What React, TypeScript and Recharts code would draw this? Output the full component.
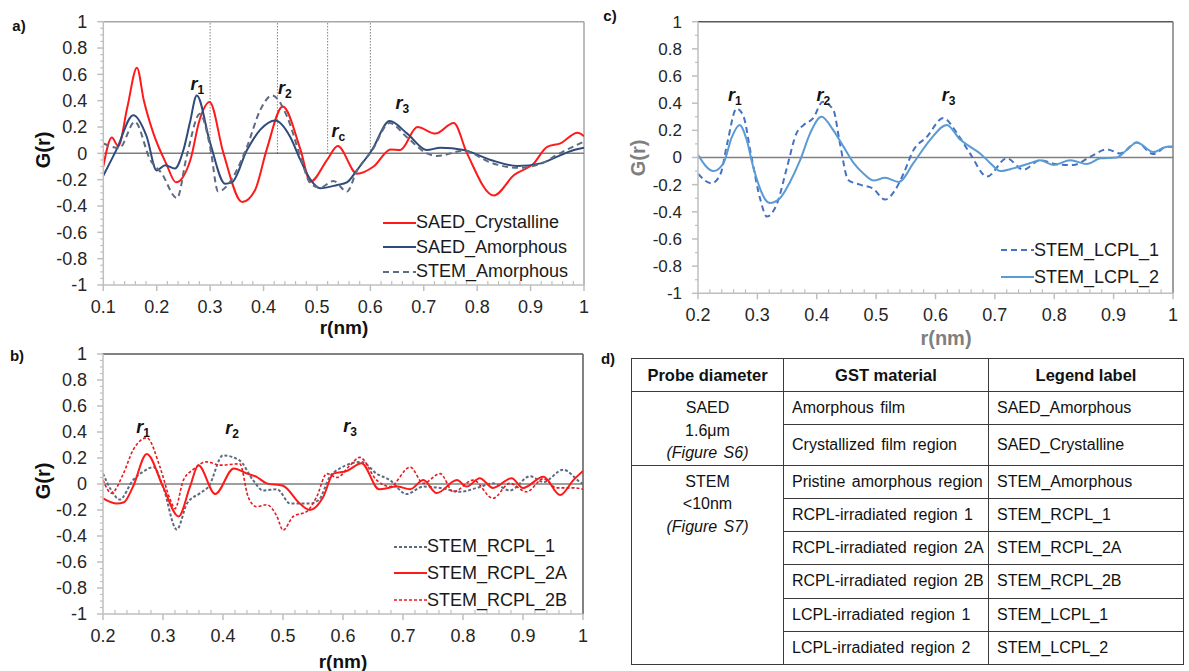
import React from 'react';
import { LineChart, Line, XAxis, YAxis, ReferenceLine, ReferenceDot } from 'recharts';

// r (nm) and G(r) values, one pair of arrays per curve

// panel a
const saedCrystR = [0.1, 0.116, 0.128, 0.145, 0.163, 0.176, 0.194, 0.218, 0.236, 0.263, 0.28, 0.299, 0.325, 0.36, 0.384, 0.406, 0.436, 0.469, 0.488, 0.519, 0.539, 0.575, 0.606, 0.638, 0.656, 0.688, 0.722, 0.756, 0.781, 0.831, 0.869, 0.906, 0.931, 0.956, 0.988, 1.0];
const saedCrystG = [-0.1, 0.12, 0.055, 0.35, 0.65, 0.4, 0.15, -0.08, -0.22, -0.05, 0.25, 0.39, 0.0, -0.37, -0.28, 0.03, 0.355, 0.03, -0.215, -0.05, 0.055, -0.155, -0.1, 0.03, 0.025, 0.2, 0.15, 0.23, 0.0, -0.32, -0.165, -0.076, 0.05, 0.076, 0.157, 0.13];

const saedAmorR = [0.1, 0.125, 0.156, 0.181, 0.2, 0.216, 0.234, 0.25, 0.262, 0.275, 0.3, 0.328, 0.341, 0.369, 0.394, 0.422, 0.45, 0.469, 0.488, 0.506, 0.538, 0.556, 0.575, 0.603, 0.636, 0.669, 0.706, 0.731, 0.775, 0.825, 0.875, 0.919, 0.95, 0.981, 1.0];
const saedAmorG = [-0.17, 0.03, 0.29, 0.13, -0.13, -0.09, -0.115, 0.025, 0.23, 0.44, 0.08, -0.23, -0.22, 0.025, 0.18, 0.25, 0.125, -0.05, -0.2, -0.265, -0.24, -0.22, -0.127, 0.025, 0.245, 0.15, 0.025, 0.043, 0.025, -0.05, -0.096, -0.076, -0.025, 0.025, 0.043];

const stemAmorR = [0.1, 0.13, 0.159, 0.188, 0.209, 0.238, 0.256, 0.281, 0.3, 0.315, 0.343, 0.369, 0.394, 0.416, 0.444, 0.469, 0.488, 0.506, 0.531, 0.556, 0.575, 0.603, 0.636, 0.669, 0.706, 0.725, 0.775, 0.825, 0.875, 0.919, 0.95, 1.0];
const stemAmorG = [0.075, 0.04, 0.24, -0.05, -0.15, -0.34, -0.025, 0.3, 0.05, -0.29, -0.18, 0.05, 0.33, 0.44, 0.28, -0.025, -0.23, -0.26, -0.21, -0.29, -0.13, 0.02, 0.23, 0.12, 0.0, -0.02, 0.02, -0.07, -0.11, -0.08, -0.01, 0.09];

// panel b
const rcpl1R = [0.2, 0.214, 0.228, 0.25, 0.267, 0.284, 0.3, 0.323, 0.34, 0.362, 0.376, 0.4, 0.428, 0.45, 0.467, 0.49, 0.512, 0.545, 0.56, 0.578, 0.595, 0.631, 0.656, 0.678, 0.706, 0.734, 0.762, 0.795, 0.823, 0.85, 0.878, 0.912, 0.934, 0.967, 0.995, 1.0];
const rcpl1G = [0.08, -0.05, -0.12, 0.03, 0.095, 0.13, -0.02, -0.35, -0.15, -0.07, -0.02, 0.22, 0.18, 0.03, -0.05, -0.04, -0.15, -0.15, -0.12, 0.055, 0.12, 0.17, 0.08, 0.03, -0.077, -0.02, -0.03, -0.06, -0.03, 0.005, -0.05, 0.06, 0.015, 0.11, 0.015, 0.0];

const rcpl2aR = [0.2, 0.223, 0.235, 0.25, 0.273, 0.3, 0.326, 0.345, 0.359, 0.387, 0.418, 0.44, 0.456, 0.473, 0.5, 0.528, 0.545, 0.567, 0.584, 0.606, 0.631, 0.66, 0.69, 0.712, 0.734, 0.756, 0.79, 0.806, 0.828, 0.85, 0.881, 0.9, 0.934, 0.962, 0.984, 1.0];
const rcpl2aG = [-0.11, -0.15, -0.14, -0.02, 0.23, -0.02, -0.25, -0.02, 0.145, -0.077, 0.12, 0.08, 0.055, 0.005, -0.013, -0.15, -0.2, -0.1, 0.08, 0.1, 0.16, -0.04, -0.02, -0.04, 0.03, -0.07, 0.03, -0.02, 0.045, -0.03, 0.045, -0.03, 0.055, -0.085, 0.03, 0.1];

const rcpl2bR = [0.2, 0.214, 0.234, 0.25, 0.273, 0.295, 0.312, 0.32, 0.334, 0.35, 0.373, 0.395, 0.428, 0.442, 0.456, 0.473, 0.49, 0.5, 0.517, 0.54, 0.556, 0.573, 0.59, 0.612, 0.628, 0.656, 0.678, 0.712, 0.734, 0.762, 0.784, 0.817, 0.85, 0.878, 0.906, 0.934, 0.956, 0.984, 1.0];
const rcpl2bG = [0.03, -0.07, 0.08, 0.26, 0.355, 0.13, -0.12, -0.19, 0.03, 0.11, 0.17, 0.145, 0.155, -0.1, -0.175, -0.16, -0.25, -0.355, -0.25, -0.21, -0.1, 0.08, 0.05, 0.145, 0.205, 0.03, -0.02, 0.13, 0.005, 0.08, -0.06, 0.03, -0.11, 0.005, -0.06, 0.04, -0.03, -0.03, -0.04];

// panel c
const lcpl1R = [0.2, 0.223, 0.238, 0.249, 0.265, 0.276, 0.29, 0.305, 0.316, 0.333, 0.35, 0.366, 0.378, 0.394, 0.41, 0.428, 0.439, 0.453, 0.473, 0.495, 0.515, 0.532, 0.546, 0.563, 0.585, 0.613, 0.636, 0.658, 0.687, 0.72, 0.748, 0.776, 0.804, 0.832, 0.861, 0.889, 0.911, 0.939, 0.967, 0.99, 1.0];
const lcpl1G = [-0.12, -0.19, -0.12, 0.1, 0.36, 0.31, 0.005, -0.31, -0.435, -0.34, -0.07, 0.18, 0.24, 0.29, 0.41, 0.35, 0.105, -0.165, -0.2, -0.23, -0.31, -0.24, -0.12, 0.055, 0.15, 0.29, 0.18, 0.03, -0.14, -0.006, -0.09, -0.02, -0.05, -0.055, 0.006, 0.06, 0.03, 0.11, 0.025, 0.08, 0.08];

const lcpl2R = [0.2, 0.226, 0.243, 0.257, 0.27, 0.282, 0.293, 0.321, 0.338, 0.355, 0.372, 0.389, 0.408, 0.428, 0.445, 0.462, 0.479, 0.496, 0.515, 0.538, 0.563, 0.591, 0.619, 0.642, 0.658, 0.675, 0.692, 0.709, 0.731, 0.76, 0.776, 0.799, 0.827, 0.855, 0.878, 0.905, 0.922, 0.939, 0.967, 0.99, 1.0];
const lcpl2G = [0.02, -0.1, -0.04, 0.15, 0.24, 0.13, -0.07, -0.335, -0.3, -0.18, -0.02, 0.18, 0.3, 0.2, 0.08, -0.04, -0.12, -0.17, -0.15, -0.18, -0.04, 0.13, 0.24, 0.13, 0.08, 0.03, -0.04, -0.1, -0.08, -0.04, -0.02, -0.055, -0.02, -0.048, -0.006, 0.0, 0.055, 0.11, 0.04, 0.08, 0.08];

// peak labels (r, G position of the text) and dotted guides of panel a
const notesA = [
  { r: 0.276, g: 0.53, sub: '1' },
  { r: 0.44, g: 0.5, sub: '2' },
  { r: 0.54, g: 0.17, sub: 'c' },
  { r: 0.66, g: 0.38, sub: '3' },
];
const notesB = [
  { r: 0.267, g: 0.44, sub: '1' },
  { r: 0.415, g: 0.43, sub: '2' },
  { r: 0.612, g: 0.45, sub: '3' },
];
const notesC = [
  { r: 0.262, g: 0.46, sub: '1' },
  { r: 0.411, g: 0.46, sub: '2' },
  { r: 0.622, g: 0.46, sub: '3' },
];
const guidesA = [0.3, 0.426, 0.52, 0.6];

// table d
const probeHead = ['Probe diameter', 'GST material', 'Legend label'];
const materialCol = [
  'Amorphous film',
  'Crystallized film region',
  'Pristine amorphous region',
  'RCPL-irradiated region 1',
  'RCPL-irradiated region 2A',
  'RCPL-irradiated region 2B',
  'LCPL-irradiated region 1',
  'LCPL-irradiated region 2',
];
const legendCol = [
  'SAED_Amorphous',
  'SAED_Crystalline',
  'STEM_Amorphous',
  'STEM_RCPL_1',
  'STEM_RCPL_2A',
  'STEM_RCPL_2B',
  'STEM_LCPL_1',
  'STEM_LCPL_2',
];

const FONT = '"Liberation Sans", Arial, Helvetica, sans-serif';
const RED = '#ff1a1a';
const NAVY = '#2f4b7c';
const SLATE = '#5d6b80';

type Pt = { r: number; g: number };
const zip = (r: number[], g: number[]): Pt[] => r.map((v, i) => ({ r: v, g: g[i] }));

interface Series {
  name: string;
  data: Pt[];
  color: string;
  width: number;
  dash?: string;
}

interface Note {
  r: number;
  g: number;
  sub: string;
}

const steps = (from: number, to: number, step: number) => {
  const out: number[] = [];
  const n = Math.round((to - from) / step);
  for (let i = 0; i <= n; i++) out.push(Math.round((from + i * step) * 1000) / 1000);
  return out;
};

const isMultiple = (v: number, m: number) => Math.abs(v / m - Math.round(v / m)) < 1e-6;

const fmt = (v: number) => (isMultiple(v, 1) ? String(Math.round(v)) : v.toFixed(1));

function NoteLabel(props: any) {
  const vb = props.viewBox || { x: 0, y: 0, width: 0, height: 0 };
  const cx = vb.x + (vb.width || 0) / 2;
  const cy = vb.y + (vb.height || 0) / 2;
  return (
    <text x={cx} y={cy + 6} textAnchor="middle" fontFamily={FONT} fontWeight="bold" fill="#111">
      <tspan fontStyle="italic" fontSize={18}>
        r
      </tspan>
      <tspan fontSize={12} dy={4}>
        {props.sub}
      </tspan>
    </text>
  );
}

interface PanelProps {
  left: number;
  top: number;
  width: number;
  height: number;
  margin: { top: number; right: number; bottom: number; left: number };
  xMin: number;
  yMinor: number;
  yFont: number;
  series: Series[];
  notes: Note[];
  guides?: number[];
  frame: string;
  rightFrame: string;
}

function Panel(p: PanelProps) {
  const axisX = p.margin.left + 60;
  const axisY = p.height - p.margin.bottom - 30;
  const xTicks = steps(p.xMin, 1, 0.02);
  const yTicks = steps(-1, 1, p.yMinor);

  const xTick = (t: any) => {
    const v = t.payload.value;
    const major = isMultiple(v, 0.1);
    return (
      <g>
        {major ? (
          <line x1={t.x} x2={t.x} y1={axisY} y2={axisY + 6} stroke="#bfbfbf" strokeWidth={1.5} />
        ) : (
          <line x1={t.x} x2={t.x} y1={axisY - 4} y2={axisY} stroke="#bfbfbf" strokeWidth={1.2} />
        )}
        {major && (
          <text x={t.x} y={axisY + 28} textAnchor="middle" fontSize={18} fontFamily={FONT} fill="#262626">
            {fmt(v)}
          </text>
        )}
      </g>
    );
  };

  const yTick = (t: any) => {
    const v = t.payload.value;
    const major = isMultiple(v, 0.2);
    return (
      <g>
        <line
          x1={axisX - (major ? 6 : 3)}
          x2={axisX}
          y1={t.y}
          y2={t.y}
          stroke="#bfbfbf"
          strokeWidth={major ? 1.5 : 1.2}
        />
        {major && (
          <text
            x={axisX - 16}
            y={t.y}
            dy="0.35em"
            textAnchor="end"
            fontSize={p.yFont}
            fontFamily={FONT}
            fill="#262626"
          >
            {fmt(v)}
          </text>
        )}
      </g>
    );
  };

  return (
    <div style={{ position: 'absolute', left: p.left, top: p.top }}>
      <LineChart width={p.width} height={p.height} margin={p.margin}>
        <XAxis
          type="number"
          dataKey="r"
          domain={[p.xMin, 1]}
          ticks={xTicks}
          interval={0}
          allowDataOverflow
          height={30}
          tickLine={false}
          axisLine={{ stroke: '#bfbfbf', strokeWidth: 1.5 }}
          tick={xTick}
        />
        <YAxis
          type="number"
          dataKey="g"
          domain={[-1, 1]}
          ticks={yTicks}
          interval={0}
          allowDataOverflow
          width={60}
          tickLine={false}
          axisLine={{ stroke: '#bfbfbf', strokeWidth: 1.5 }}
          tick={yTick}
        />
        <ReferenceLine y={1} stroke={p.frame} strokeWidth={1.5} />
        <ReferenceLine x={1} stroke={p.rightFrame} strokeWidth={1.5} />
        <ReferenceLine y={0} stroke="#7f7f7f" strokeWidth={1.5} />
        {(p.guides || []).map((gx) => (
          <ReferenceLine
            key={gx}
            segment={[
              { x: gx, y: 0 },
              { x: gx, y: 1 },
            ]}
            stroke="#404040"
            strokeWidth={1}
            strokeDasharray="1 2"
          />
        ))}
        {p.series.map((s) => (
          <Line
            key={s.name}
            data={s.data}
            dataKey="g"
            name={s.name}
            type="monotone"
            stroke={s.color}
            strokeWidth={s.width}
            strokeDasharray={s.dash}
            dot={false}
            isAnimationActive={false}
          />
        ))}
        {p.notes.map((n) => (
          <ReferenceDot
            key={n.sub}
            x={n.r}
            y={n.g}
            r={1}
            fill="none"
            stroke="none"
            label={(lp: any) => <NoteLabel {...lp} sub={n.sub} />}
          />
        ))}
      </LineChart>
    </div>
  );
}

function LegendBox({ left, top, gap, items }: { left: number; top: number; gap: number; items: Series[] }) {
  return (
    <div style={{ position: 'absolute', left, top, fontFamily: FONT, fontSize: 18, color: '#1a1a1a' }}>
      {items.map((s) => (
        <div key={s.name} style={{ display: 'flex', alignItems: 'center', height: gap }}>
          <svg width={33} height={10} style={{ display: 'block' }}>
            <line x1={0} x2={33} y1={5} y2={5} stroke={s.color} strokeWidth={s.width} strokeDasharray={s.dash} />
          </svg>
          <span style={{ whiteSpace: 'nowrap' }}>{s.name}</span>
        </div>
      ))}
    </div>
  );
}

function Title({
  x,
  y,
  text,
  rotate,
  color = '#111',
  size = 19,
}: {
  x: number;
  y: number;
  text: string;
  rotate?: boolean;
  color?: string;
  size?: number;
}) {
  return (
    <div
      style={{
        position: 'absolute',
        left: x,
        top: y,
        transform: `translate(-50%, -50%)${rotate ? ' rotate(-90deg)' : ''}`,
        fontFamily: FONT,
        fontWeight: 'bold',
        fontSize: size,
        color,
        whiteSpace: 'nowrap',
      }}
    >
      {text}
    </div>
  );
}

function InfoTable() {
  const border = '1.5px solid #3a3a3a';
  const cell: React.CSSProperties = { border, padding: '0 8px', fontSize: 16, whiteSpace: 'nowrap', wordSpacing: 2 };
  const rowH = [33, 40, 33, 33, 33, 34, 33, 33];
  const groupCell = (lines: string[], italic: string, span: number) => (
    <td rowSpan={span} style={{ ...cell, textAlign: 'center', verticalAlign: 'top', paddingTop: 5, lineHeight: '22.5px' }}>
      {lines.map((l) => (
        <div key={l}>{l}</div>
      ))}
      <div style={{ fontStyle: 'italic' }}>{italic}</div>
    </td>
  );
  return (
    <table
      style={{
        position: 'absolute',
        left: 631,
        top: 358,
        width: 552,
        borderCollapse: 'collapse',
        tableLayout: 'fixed',
        fontFamily: FONT,
        color: '#111',
      }}
    >
      <colgroup>
        <col style={{ width: 152 }} />
        <col style={{ width: 205 }} />
        <col style={{ width: 195 }} />
      </colgroup>
      <tbody>
        <tr style={{ height: 33 }}>
          {probeHead.map((h) => (
            <td key={h} style={{ ...cell, fontWeight: 'bold', textAlign: 'center', fontSize: 16.5, wordSpacing: 0 }}>
              {h}
            </td>
          ))}
        </tr>
        {materialCol.map((m, i) => (
          <tr key={m} style={{ height: rowH[i] }}>
            {i === 0 && groupCell(['SAED', '1.6μm'], '(Figure S6)', 2)}
            {i === 2 && groupCell(['STEM', '<10nm'], '(Figure S7)', 6)}
            <td style={cell}>{m}</td>
            <td style={{ ...cell, wordSpacing: 0 }}>{legendCol[i]}</td>
          </tr>
        ))}
      </tbody>
    </table>
  );
}

export default function App() {
  const seriesA: Series[] = [
    { name: 'SAED_Crystalline', data: zip(saedCrystR, saedCrystG), color: RED, width: 2 },
    { name: 'SAED_Amorphous', data: zip(saedAmorR, saedAmorG), color: NAVY, width: 2 },
    { name: 'STEM_Amorphous', data: zip(stemAmorR, stemAmorG), color: SLATE, width: 2, dash: '6 4' },
  ];
  const seriesB: Series[] = [
    { name: 'STEM_RCPL_1', data: zip(rcpl1R, rcpl1G), color: SLATE, width: 2, dash: '3 2' },
    { name: 'STEM_RCPL_2A', data: zip(rcpl2aR, rcpl2aG), color: RED, width: 2 },
    { name: 'STEM_RCPL_2B', data: zip(rcpl2bR, rcpl2bG), color: '#e8191e', width: 1.6, dash: '3 2' },
  ];
  const seriesC: Series[] = [
    { name: 'STEM_LCPL_1', data: zip(lcpl1R, lcpl1G), color: '#4472c4', width: 2, dash: '6 4' },
    { name: 'STEM_LCPL_2', data: zip(lcpl2R, lcpl2G), color: '#5b9bd5', width: 2 },
  ];

  return (
    <div
      style={{
        position: 'absolute',
        left: 0,
        top: 0,
        width: 1189,
        height: 671,
        background: '#fff',
        overflow: 'hidden',
        fontFamily: FONT,
      }}
    >
      <Panel
        left={0}
        top={0}
        width={600}
        height={330}
        margin={{ top: 21.7, right: 16, bottom: 15, left: 43.3 }}
        xMin={0.1}
        yMinor={0.05}
        yFont={18}
        series={seriesA}
        notes={notesA}
        guides={guidesA}
        frame="#a6a6a6"
        rightFrame="#a6a6a6"
      />
      <Panel
        left={0}
        top={340}
        width={600}
        height={331}
        margin={{ top: 14, right: 17, bottom: 27, left: 43 }}
        xMin={0.2}
        yMinor={0.05}
        yFont={18}
        series={seriesB}
        notes={notesB}
        frame="#595959"
        rightFrame="#595959"
      />
      <Panel
        left={600}
        top={0}
        width={589}
        height={350}
        margin={{ top: 21.7, right: 16, bottom: 26.7, left: 38 }}
        xMin={0.2}
        yMinor={0.1}
        yFont={17}
        series={seriesC}
        notes={notesC}
        frame="#595959"
        rightFrame="#7f7f7f"
      />

      <LegendBox left={383} top={210.5} gap={24.5} items={seriesA} />
      <LegendBox left={394} top={533.3} gap={26.7} items={seriesB} />
      <LegendBox left={1001} top={236.5} gap={27} items={seriesC} />

      <Title x={19} y={25} text="a)" size={15} />
      <Title x={17} y={355} text="b)" size={15} />
      <Title x={610} y={15} text="c)" size={15} />
      <Title x={608} y={358} text="d)" size={15} />

      <Title x={43} y={150} text="G(r)" rotate size={20} />
      <Title x={344} y={328} text="r(nm)" size={19} />
      <Title x={43} y={481} text="G(r)" rotate size={20} />
      <Title x={343} y={662} text="r(nm)" size={19} />
      <Title x={638} y={158} text="G(r)" rotate size={20} color="#7f7f7f" />
      <Title x={946} y={338} text="r(nm)" size={20} color="#7f7f7f" />

      <InfoTable />
    </div>
  );
}
